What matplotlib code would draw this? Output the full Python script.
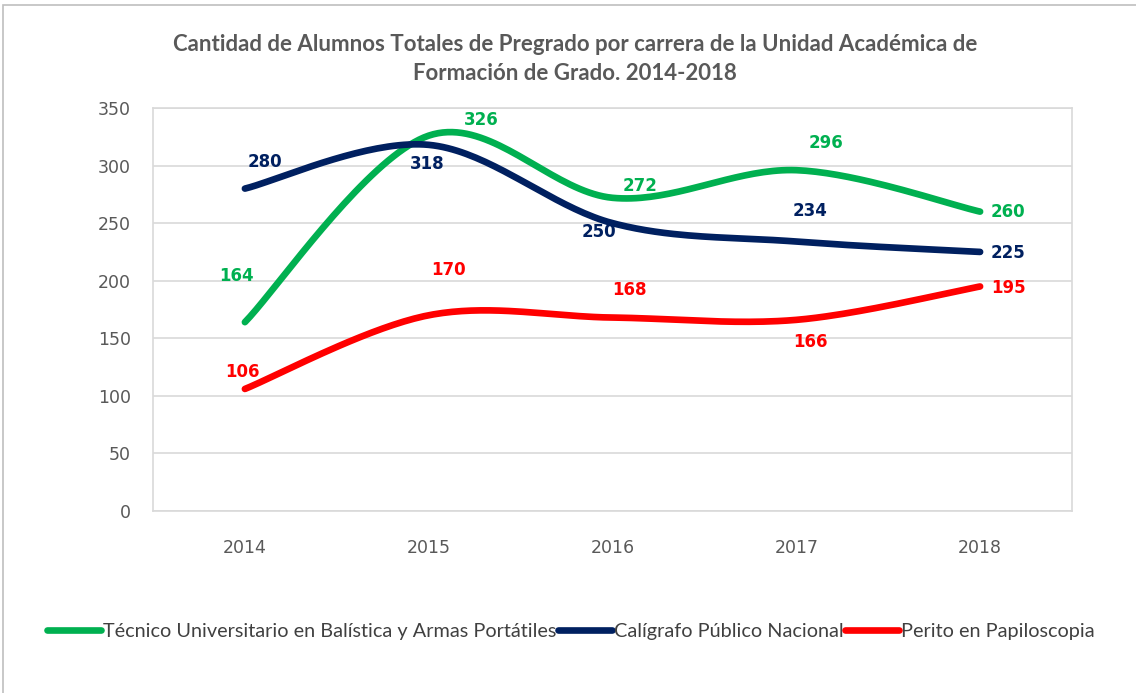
import numpy as np
import matplotlib
matplotlib.use("Agg")
import matplotlib.pyplot as plt
from matplotlib.patches import Rectangle
from matplotlib.lines import Line2D

years = ["2014", "2015", "2016", "2017", "2018"]
tecnico = [164, 326, 272, 296, 260]
caligrafo = [280, 318, 250, 234, 225]
perito = [106, 170, 168, 166, 195]
series_names = ["Técnico Universitario en Balística y Armas Portátiles",
                "Calígrafo Público Nacional",
                "Perito en Papiloscopia"]
colors = ["#00B050", "#002060", "#FF0000"]
title = "Cantidad de Alumnos Totales de Pregrado por carrera de la Unidad Académica de\nFormación de Grado. 2014-2018"

# label offsets (pixels) per series/point
offsets = [
    [(-8, 46), (53, 16), (28, 12), (30, 27), (28, 0)],
    [(20, 27), (-2, -19), (-14, -9), (14, 31), (28, -1)],
    [(-2, 17), (20, 45), (17, 28), (14, -22), (28, -2)],
]


def smooth(x, y, n=40):
    x = np.asarray(x, float)
    y = np.asarray(y, float)
    P = np.column_stack([x, y])
    out = []
    m = len(P)
    for i in range(m - 1):
        p0 = P[i - 1] if i > 0 else P[i]
        p1 = P[i]
        p2 = P[i + 1]
        p3 = P[i + 2] if i + 2 < m else P[i + 1]
        b1 = p1 + (p2 - p0) / 6.0
        b2 = p2 - (p3 - p1) / 6.0
        t = np.linspace(0, 1, n)[:, None]
        seg = ((1 - t) ** 3) * p1 + 3 * ((1 - t) ** 2) * t * b1 + 3 * (1 - t) * t ** 2 * b2 + t ** 3 * p2
        out.append(seg if i == 0 else seg[1:])
    s = np.vstack(out)
    return s[:, 0], s[:, 1]


W, H = 1136, 693
fig = plt.figure(figsize=(W / 100, H / 100), dpi=100)
fig.patch.set_facecolor("white")

# chart border
fig.patches.append(Rectangle((3 / W, -0.05), 1.2, (H - 5) / H + 0.05, transform=fig.transFigure,
                             fill=False, edgecolor="#BFBFBF", linewidth=1.2))

ax = fig.add_axes([153 / W, 182 / H, (1072 - 153) / W, (511 - 108) / H])
ax.set_xlim(-0.5, 4.5)
ax.set_ylim(0, 350)
ax.set_yticks(np.arange(0, 351, 50))
ax.set_xticks(range(len(years)))
ax.set_xticklabels(years)
ax.grid(axis="y", color="#D9D9D9", linewidth=1.2)
ax.set_axisbelow(True)
for sp in ax.spines.values():
    sp.set_color("#D9D9D9")
    sp.set_linewidth(1.2)
ax.tick_params(length=0, colors="#595959", labelsize=12.5)
ax.tick_params(axis="x", pad=20)
ax.tick_params(axis="y", pad=16)

xs = np.arange(len(years))
for vals, col, offs in zip([tecnico, caligrafo, perito], colors, offsets):
    sx, sy = smooth(xs, vals)
    ax.plot(sx, sy, color=col, linewidth=4.8, solid_capstyle="round", zorder=3)
    for xi, v, (dx, dy) in zip(xs, vals, offs):
        ax.annotate(str(v), (xi, v), xytext=(dx, dy), textcoords="offset pixels",
                    ha="center", va="center", color=col, fontsize=12, fontweight="bold",
                    family="DejaVu Sans", zorder=4)

fig.text(575 / W, 1 - 59 / H, title, ha="center", va="center", fontsize=16,
         fontweight="bold", color="#595959", family="Lato", linespacing=1.45)

handles = [Line2D([], [], color=c, linewidth=4.8, solid_capstyle="round") for c in colors]
leg = fig.legend(handles, series_names, loc="center", bbox_to_anchor=(571 / W, 1 - 631 / H),
                 ncol=3, frameon=False, handlelength=2.7, handletextpad=0.1, columnspacing=0.1,
                 prop={"family": "Lato", "size": 14.3})
for t in leg.get_texts():
    t.set_color("#404040")

fig.savefig("out.png", dpi=100)
